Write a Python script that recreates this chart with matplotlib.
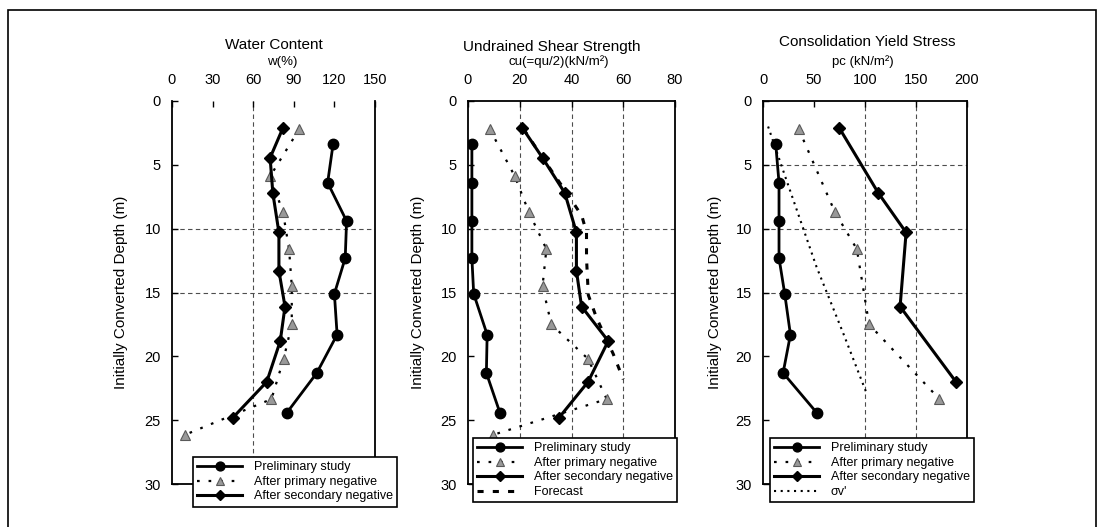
"""Depth profiles: water content, undrained shear strength, consolidation yield stress."""
import matplotlib
matplotlib.use("Agg")
import matplotlib.pyplot as plt
from matplotlib.patches import Rectangle

plt.rcParams["font.family"] = ["Liberation Sans", "DejaVu Sans"]

W, H = 1098, 527  # output size in px

# depths (m) of the sampling points
depth_pre = [3.4, 6.4, 9.4, 12.3, 15.1, 18.3, 21.3, 24.4]
depth_prim = [2.2, 5.9, 8.7, 11.6, 14.5, 17.5, 20.2, 23.35, 26.15]
depth_sec = [2.1, 4.45, 7.2, 10.3, 13.3, 16.1, 18.8, 22.0, 24.8]

# water content w (%)
wc_pre = [119, 115, 129, 128, 120, 122, 107, 85]
wc_prim = [94, 72.5, 82, 86.5, 88.5, 88.5, 82.5, 73.5, 9.5]
wc_sec = [82, 72.5, 74.5, 79, 79, 83.5, 80, 70, 45]

# undrained shear strength cu (kN/m2)
cu_pre = [1.5, 1.5, 1.5, 1.5, 2.2, 7.4, 7.1, 12.3]
cu_prim = [8.4, 18.1, 23.5, 30.3, 28.8, 32.2, 46.4, 53.6, 9.7]
cu_sec = [21, 28.8, 37.4, 41.9, 41.9, 43.9, 54.2, 46.4, 35.2]
depth_fc = [2.2, 4.5, 7.3, 9.0, 10.3, 12.3, 15.2, 17.0, 19.8, 21.8]
cu_fc = [21.5, 29, 38.5, 44, 45.8, 45.8, 46.5, 49.7, 56.1, 60]

# consolidation yield stress pc (kN/m2)
pc_pre = [12.5, 15.7, 15.7, 15.7, 21.3, 26.9, 19.7, 52.5]
depth_prim3 = [2.2, 8.7, 11.6, 17.5, 23.35]
pc_prim = [35, 70.5, 92, 104, 173]
depth_sec3 = [2.1, 7.2, 10.3, 16.1, 22.0]
pc_sec = [74.7, 113, 140.3, 134.4, 189.2]
depth_sv = [2.0, 6.2, 13.0, 18.2, 22.9]
sv = [5, 23, 52.5, 78.7, 101.6]

LABELS = ["Preliminary study", "After primary negative", "After secondary negative"]
YLABEL = "Initially Converted Depth (m)"

PRE = dict(color="black", lw=2.0, marker="o", ms=7.5)
PRIM = dict(color="black", lw=1.6, ls=(0, (1.2, 4)), marker="^", ms=7.5,
            mfc="0.6", mec="0.35", mew=0.8)
SEC = dict(color="black", lw=2.2, marker="D", ms=6.5)
FC = dict(color="black", lw=2.2, ls=(0, (2, 3)))
SV = dict(color="black", lw=1.5, ls=(0, (1, 2.2)))


def fx(px):
    return px / W


def fy(py):
    return 1 - py / H


fig = plt.figure(figsize=(W / 100, H / 100), dpi=100)
fig.patches.append(Rectangle((fx(8), fy(540)), fx(1096) - fx(8), fy(10) - fy(540),
                             transform=fig.transFigure, fill=False, lw=1.2,
                             ec="black"))

top, bot = 101, 484
panels = [
    # left px, right px, xmax, xticks, vgrid, hgrid, title, subtitle, title pos, sub pos, ylab px
    (172, 375, 150, range(0, 151, 30), [60], [10, 15],
     "Water Content", "w(%)", (274, 45), (282, 62), 128),
    (468, 675, 80, range(0, 81, 20), [20, 40, 60], [10, 15],
     "Undrained Shear Strength", "cu(=qu/2)(kN/m²)", (552, 47), (559, 62), 425),
    (763, 967, 200, range(0, 201, 50), [100, 150], [5, 10, 15],
     "Consolidation Yield Stress", "pc (kN/m²)", (867, 42), (863, 62), 722),
]

axes = []
for (l, r, xmax, xt, vg, hg, title, sub, tpos, spos, ylx) in panels:
    ax = fig.add_axes([fx(l), fy(bot), fx(r) - fx(l), fy(top) - fy(bot)])
    ax.set_xlim(0, xmax)
    ax.set_ylim(30, 0)
    ax.set_xticks(list(xt))
    ax.set_yticks(range(0, 31, 5))
    ax.xaxis.tick_top()
    ax.tick_params(direction="in", length=4, width=1, labelsize=10.5)
    ax.tick_params(axis="x", pad=10)
    ax.tick_params(axis="y", pad=8)
    for s in ax.spines.values():
        s.set_linewidth(1.3)
    for v in vg:
        ax.axvline(v, color="0.3", lw=0.8, ls=(0, (4, 3)), zorder=0)
    for h in hg:
        ax.axhline(h, color="0.3", lw=0.8, ls=(0, (4, 3)), zorder=0)
    ax.set_ylabel(YLABEL, fontsize=11)
    ax.yaxis.set_label_coords((ylx - l) / (r - l), 0.5)
    fig.text(fx(tpos[0]), fy(tpos[1]), title, ha="center", va="center", fontsize=11)
    fig.text(fx(spos[0]), fy(spos[1]), sub, ha="center", va="center", fontsize=9.5)
    axes.append(ax)

ax1, ax2, ax3 = axes
ax1.spines["top"].set_visible(False)

# water content
ax1.plot(wc_pre, depth_pre, label=LABELS[0], **PRE)
ax1.plot(wc_prim, depth_prim, label=LABELS[1], **PRIM)
ax1.plot(wc_sec, depth_sec, label=LABELS[2], **SEC)

# undrained shear strength
ax2.plot(cu_pre, depth_pre, label=LABELS[0], **PRE)
ax2.plot(cu_prim, depth_prim, label=LABELS[1], **PRIM)
ax2.plot(cu_sec, depth_sec, label=LABELS[2], **SEC)
ax2.plot(cu_fc, depth_fc, label="Forecast", **FC)

# consolidation yield stress
ax3.plot(pc_pre, depth_pre, label=LABELS[0], **PRE)
ax3.plot(pc_prim, depth_prim3, label=LABELS[1], **PRIM)
ax3.plot(pc_sec, depth_sec3, label=LABELS[2], **SEC)
ax3.plot(sv, depth_sv, label="σv'", **SV)

leg_kw = dict(loc="upper left", bbox_transform=fig.transFigure, fontsize=9,
              frameon=True, fancybox=False, framealpha=1, edgecolor="black",
              handlelength=3.6, handletextpad=0.9, borderpad=0.35,
              labelspacing=0.2, borderaxespad=0, markerscale=0.85)
for ax, (lx, ly) in zip(axes, [(193, 457), (473, 438), (770, 438)]):
    leg = ax.legend(bbox_to_anchor=(fx(lx), fy(ly)), **leg_kw)
    leg.get_frame().set_linewidth(1.2)

fig.savefig("out.png", dpi=100)
